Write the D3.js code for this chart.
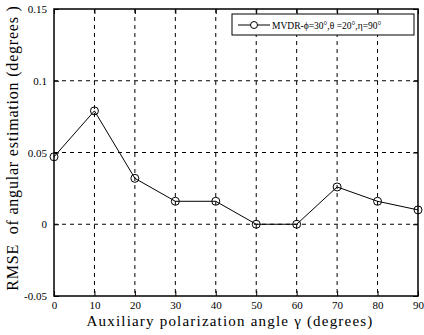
<!DOCTYPE html>
<html><head><meta charset="utf-8">
<script src="https://cdn.jsdelivr.net/npm/d3@7"></script>
<style>body{margin:0;background:#fff}svg{display:block}text{font-family:"Liberation Serif","Times New Roman",serif}</style>
</head><body>
<svg id="c" width="424" height="335"></svg>
<script>
const gammas = [0,10,20,30,40,50,60,70,80,90];
const rmse = [0.047,0.079,0.032,0.016,0.016,0,0,0.026,0.016,0.010];
const xTicks = [0,10,20,30,40,50,60,70,80,90];
const yTicks = [-0.05,0,0.05,0.1,0.15];
const yTickLabels = ["-0.05","0","0.05","0.1","0.15"];
const seriesName = "MVDR-\u03d5=30\u00b0,\u03b8 =20\u00b0,\u03b7=90\u00b0";

const L=54,R=418,T=9,B=296;
const svg=d3.select("#c");
const x=d3.scaleLinear().domain([0,90]).range([L,R]);
const y=d3.scaleLinear().domain([-0.05,0.15]).range([B,T]);

// grid
const g=svg.append("g");
g.selectAll("line.gx").data(xTicks.slice(1,-1)).enter().append("line")
 .attr("x1",d=>x(d)).attr("x2",d=>x(d)).attr("y1",T).attr("y2",B)
 .attr("stroke","#000").attr("stroke-width",1).attr("stroke-dasharray","4,4");
g.selectAll("line.gy").data(yTicks.slice(1,-1)).enter().append("line")
 .attr("y1",d=>y(d)).attr("y2",d=>y(d)).attr("x1",L).attr("x2",R)
 .attr("stroke","#000").attr("stroke-width",1).attr("stroke-dasharray","4,4");

// axes
const xa=svg.append("g").attr("transform",`translate(0,${B})`)
 .call(d3.axisBottom(x).tickValues(xTicks).tickSize(-5).tickPadding(5));
const xt=svg.append("g").attr("transform",`translate(0,${T})`)
 .call(d3.axisTop(x).tickValues(xTicks).tickSize(-5).tickFormat(""));
const ya=svg.append("g").attr("transform",`translate(${L},0)`)
 .call(d3.axisLeft(y).tickValues(yTicks).tickSize(-5).tickPadding(7).tickFormat((d,i)=>yTickLabels[i]));
const yr=svg.append("g").attr("transform",`translate(${R},0)`)
 .call(d3.axisRight(y).tickValues(yTicks).tickSize(-5).tickFormat(""));
[xa,xt,ya,yr].forEach(a=>{a.select(".domain").remove();a.selectAll("text").attr("font-size",11).attr("fill","#000").style("font-family","Liberation Serif");});

svg.append("rect").attr("x",L).attr("y",T).attr("width",R-L).attr("height",B-T)
 .attr("fill","none").attr("stroke","#000").attr("stroke-width",1.5);

// line
svg.append("path").datum(gammas.map((g,i)=>[g,rmse[i]]))
 .attr("d",d3.line().x(d=>x(d[0])).y(d=>y(d[1])))
 .attr("fill","none").attr("stroke","#000").attr("stroke-width",1);
svg.selectAll("circle.m").data(gammas.map((g,i)=>[g,rmse[i]])).enter().append("circle")
 .attr("cx",d=>x(d[0])).attr("cy",d=>y(d[1])).attr("r",4)
 .attr("fill","none").attr("stroke","#000").attr("stroke-width",1);

// legend
const lg=svg.append("g");
lg.append("rect").attr("x",232).attr("y",14).attr("width",182).attr("height",21)
 .attr("fill","#fff").attr("stroke","#000").attr("stroke-width",1);
lg.append("line").attr("x1",238).attr("x2",270).attr("y1",25).attr("y2",25).attr("stroke","#000");
lg.append("circle").attr("cx",254).attr("cy",25).attr("r",3.5).attr("fill","#fff").attr("stroke","#000");
lg.append("text").attr("x",272).attr("y",28.5).attr("font-size",9.5).text(seriesName);

// titles
svg.append("text").attr("x",230).attr("y",326).attr("text-anchor","middle")
 .attr("font-size",15).attr("letter-spacing",1.2).style("white-space","pre")
 .text("Auxiliary polarization angle \u03b3 (degrees)");
svg.append("text").attr("transform",`translate(18,148) rotate(-90)`).attr("text-anchor","middle")
 .attr("font-size",16).attr("letter-spacing",0.8).style("white-space","pre")
 .text("RMSE  of angular estimation (degrees )");
</script>
</body></html>
